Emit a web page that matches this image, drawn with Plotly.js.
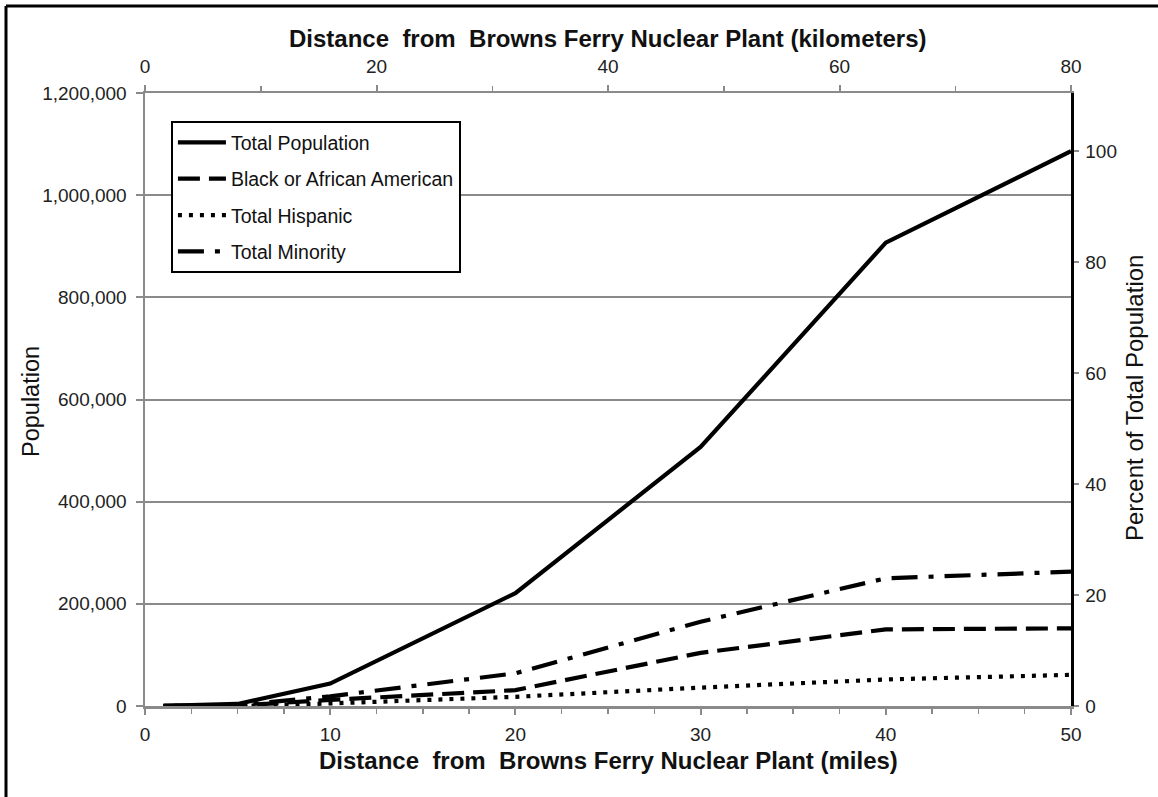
<!DOCTYPE html>
<html>
<head>
<meta charset="utf-8">
<script src="https://cdn.plot.ly/plotly-3.0.1.min.js"></script>
<style>html,body{margin:0;padding:0;background:#fff;}#chart{width:1158px;height:797px;}</style>
</head>
<body>
<div id="chart"></div>
<script>
// Distance (miles)
const miles = [1, 5, 10, 20, 30, 40, 50];
// Population series
const totalPopulation = [500, 4000, 44000, 221000, 507000, 907000, 1086000];
const blackAfricanAmerican = [100, 800, 12000, 31000, 104000, 150000, 152000];
const totalHispanic = [20, 300, 5000, 18000, 36000, 52000, 61000];
const totalMinority = [150, 1500, 19000, 64000, 165000, 250000, 263000];
const seriesNames = ["Total Population", "Black or African American", "Total Hispanic", "Total Minority"];

const FONT = "Liberation Sans, Arial, sans-serif";
const GRAY = "#8a8a8a";

function tr(y, name, dash, grp) {
  return {x: miles, y: y, name: name, type: "scatter", mode: "lines",
    line: {color: "#000", width: 4.2, dash: dash}, legendgroup: grp, hoverinfo: "skip"};
}

const data = [
  tr(totalPopulation, seriesNames[0], "solid", "a"),
  tr(blackAfricanAmerican, seriesNames[1], "22px,9px", "b"),
  tr(totalHispanic, seriesNames[2], "4px,7px", "c"),
  tr(totalMinority, seriesNames[3], "26px,11px,5px,11px", "d"),
  {x: [], y: [], xaxis: "x2", yaxis: "y2", showlegend: false, type: "scatter", mode: "lines"}
];

const tickFont = {family: FONT, size: 19, color: "#222"};

const layout = {
  width: 1158, height: 797,
  margin: {l: 145, r: 87, t: 93, b: 91, pad: 0},
  paper_bgcolor: "#fff", plot_bgcolor: "#fff",
  font: {family: FONT},
  showlegend: true,
  legend: {x: 0.028, y: 0.954, xanchor: "left", yanchor: "top",
    bgcolor: "#fff", bordercolor: "#000", borderwidth: 2,
    font: {family: FONT, size: 19.5, color: "#111"},
    traceorder: "grouped", tracegroupgap: 8, itemwidth: 48},
  xaxis: {range: [0, 50], dtick: 10, tick0: 0, showgrid: false, zeroline: false,
    showline: true, linecolor: GRAY, linewidth: 2.5,
    ticks: "outside", ticklen: 6, tickcolor: GRAY, tickwidth: 2,
    minor: {dtick: 2.5, tick0: 0, ticks: "outside", ticklen: 5, tickcolor: GRAY, tickwidth: 1.5},
    tickfont: tickFont, ticklabelstandoff: 4},
  xaxis2: {range: [0, 80], dtick: 20, tick0: 0, overlaying: "x", side: "top", anchor: "y",
    showgrid: false, zeroline: false, showline: true, linecolor: GRAY, linewidth: 2.5,
    ticks: "outside", ticklen: 6, tickcolor: GRAY, tickwidth: 2,
    minor: {dtick: 10, tick0: 0, ticks: "outside", ticklen: 5, tickcolor: GRAY, tickwidth: 1.5},
    tickfont: tickFont, ticklabelstandoff: 4},
  yaxis: {range: [0, 1200000], dtick: 200000, tick0: 0, tickformat: ",d",
    showgrid: true, gridcolor: GRAY, gridwidth: 2, zeroline: false,
    showline: true, linecolor: GRAY, linewidth: 2.5,
    ticks: "outside", ticklen: 7, tickcolor: GRAY, tickwidth: 2,
    tickfont: tickFont, ticklabelstandoff: 5},
  yaxis2: {range: [0, 110.5], dtick: 20, tick0: 0, overlaying: "y", side: "right", anchor: "x",
    showgrid: false, zeroline: false, showline: true, linecolor: "#000", linewidth: 2.5,
    ticks: "outside", ticklen: 5, tickcolor: GRAY, tickwidth: 2,
    tickfont: tickFont, ticklabelstandoff: 3},
  annotations: [
    {text: "<b>Distance  from  Browns Ferry Nuclear Plant (miles)</b>", xref: "paper", yref: "paper",
     x: 0.5, y: (706 - 760) / 613, xanchor: "center", yanchor: "middle", showarrow: false,
     font: {family: FONT, size: 24, color: "#111"}},
    {text: "<b>Distance  from  Browns Ferry Nuclear Plant (kilometers)</b>", xref: "paper", yref: "paper",
     x: 0.5, y: (706 - 38) / 613, xanchor: "center", yanchor: "middle", showarrow: false,
     font: {family: FONT, size: 24, color: "#111"}},
    {text: "Population", xref: "paper", yref: "paper", textangle: -90,
     x: (31 - 145) / 926, y: (706 - 402) / 613, xanchor: "center", yanchor: "middle", showarrow: false,
     font: {family: FONT, size: 23.5, color: "#111"}},
    {text: "Percent of Total Population", xref: "paper", yref: "paper", textangle: -90,
     x: (1134 - 145) / 926, y: (706 - 398) / 613, xanchor: "center", yanchor: "middle", showarrow: false,
     font: {family: FONT, size: 24, color: "#111"}}
  ],
  shapes: [
    {type: "line", xref: "paper", yref: "paper", x0: (6 - 145) / 926, x1: (6 - 145) / 926,
     y0: (706 - 6) / 613, y1: (706 - 800) / 613, line: {color: "#000", width: 3}},
    {type: "line", xref: "paper", yref: "paper", x0: (6 - 145) / 926, x1: (1160 - 145) / 926,
     y0: (706 - 6) / 613, y1: (706 - 6) / 613, line: {color: "#000", width: 3}}
  ]
};

Plotly.newPlot("chart", data, layout, {displayModeBar: false, staticPlot: true});
</script>
</body>
</html>
